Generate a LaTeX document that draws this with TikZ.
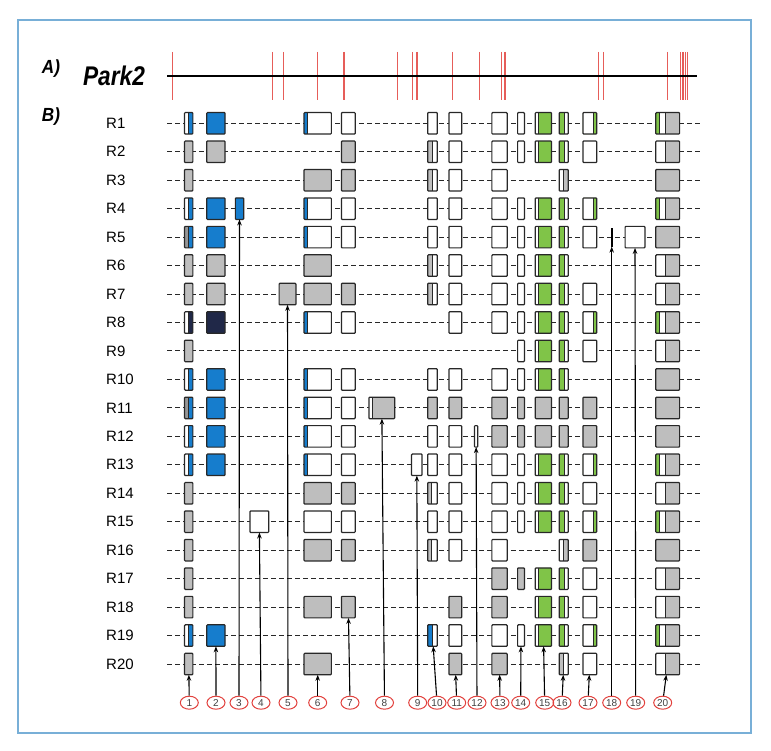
\documentclass[tikz,border=0pt]{standalone}
\usepackage{fontspec}
\setmainfont{Liberation Sans}
\usetikzlibrary{calc,shapes.geometric,arrows.meta}

\definecolor{exblue}{RGB}{22,125,205}
\definecolor{exgray}{RGB}{190,190,190}
\definecolor{exdkgray}{RGB}{150,150,150}
\definecolor{exgreen}{RGB}{128,196,72}
\definecolor{exnavy}{RGB}{32,40,72}
\definecolor{exline}{RGB}{40,40,40}
\definecolor{exred}{RGB}{226,64,60}
\definecolor{framecol}{RGB}{120,175,215}

\newcommand{\exfill}[2]{%
  \fill[#1] (path picture bounding box.south west) rectangle
    ($(path picture bounding box.north west)!#2!(path picture bounding box.north east)$);
  \draw[exline,line width=0.7pt]
    ($(path picture bounding box.south west)!#2!(path picture bounding box.south east)$) --
    ($(path picture bounding box.north west)!#2!(path picture bounding box.north east)$);}

\def\colx{{188.7,215.9,239.5,259.3,287.5,317.7,348.3,381.8,416.8,432.5,455.3,476.1,499.5,521,543.4,563.7,589.8,611.7,635,667.7}}
\def\colw{{9.5,19.5,9.5,20,18,28.5,15,27,11.7,10.8,14,4.5,16.5,8,17.5,10.3,15,3.1,21,25}}

\begin{document}
\begin{tikzpicture}[x=1pt,y=-1pt,
  exon/.style={draw=exline,line width=1.2pt,rounded corners=0.8pt,minimum height=21.5pt,inner sep=0pt,outer sep=0pt},
  exW/.style={exon,fill=white},
  exG/.style={exon,fill=exgray},
  exB/.style={exon,fill=exblue},
  exN/.style={exon,fill=exnavy},
  exT/.style={fill=black,minimum height=19pt,inner sep=0pt,outer sep=0pt},
  exWB/.style={exon,fill=exblue,path picture={\exfill{white}{0.5}}},
  exGB/.style={exon,fill=exblue,path picture={\exfill{exdkgray}{0.5}}},
  exWN/.style={exon,fill=exnavy,path picture={\exfill{white}{0.5}}},
  exbW/.style={exon,fill=white,path picture={\exfill{exblue}{0.12}}},
  exwG/.style={exon,fill=exgray,path picture={\exfill{white}{0.14}}},
  exGW/.style={exon,fill=white,path picture={\exfill{exgray}{0.5}}},
  exgW/.style={exon,fill=white,path picture={\exfill{exgray}{0.35}}},
  exBW/.style={exon,fill=white,path picture={\exfill{exblue}{0.5}}},
  exwGr/.style={exon,fill=exgreen,path picture={\exfill{white}{0.2}}},
  exGrW/.style={exon,fill=white,path picture={\exfill{exgreen}{0.6}}},
  exWG/.style={exon,fill=exgray,path picture={\exfill{white}{0.42}}},
  exWgr/.style={exon,fill=exgreen,path picture={\exfill{white}{0.78}}},
  exgWG/.style={exon,fill=exgray,path picture={\exfill{white}{0.42}\exfill{exgreen}{0.14}}},
  rowline/.style={exline,line width=1pt,dash pattern=on 4.5pt off 3.5pt},
  rlab/.style={anchor=west,inner sep=0pt,font=\fontsize{15}{18}\selectfont},
  num/.style={ellipse,draw=exred,line width=1pt,minimum width=18pt,minimum height=13pt,inner sep=0pt,
    text=black!75,font=\fontsize{10}{11}\selectfont},
  arr/.style={black,line width=1.1pt,-{Stealth[length=6pt,width=4.5pt]}},
  tickline/.style={exred!85,line width=1.2pt},
  head/.style={font=\bfseries\itshape\fontsize{19}{22}\selectfont}
]
\useasboundingbox (0,0) rectangle (771,751);
\fill[white] (0,0) rectangle (771,751);
\draw[framecol,line width=1.6pt] (18,20) rectangle (751,733);

\node[head] (hA) at (51,69) {\scalebox{0.9}[1]{A)}};
\node[head,font=\bfseries\itshape\fontsize{27}{30}\selectfont] (hgene) at (114,76) {\scalebox{0.84}[1]{Park2}};
\node[head] (hB) at (51,117) {\scalebox{0.9}[1]{B)}};

\foreach \x in {172.6,272.3,283.6,317.3,344.0,397.3,412.3,417.0,452.1,479.3,501.3,505.0,598.2,603.3,667.5,680.6,683.0,685.3,687.6}
  \draw[tickline] (\x,52) -- (\x,100);
\draw[line width=2.8pt] (167,76) -- (697,76);

\foreach \rr/\cols in {
  1/{1/WB,2/B,6/bW,7/W,10/W,11/W,13/W,14/W,15/wGr,16/GrW,17/Wgr,20/gWG},
  2/{1/G,2/G,7/G,10/GW,11/W,13/W,14/W,15/wGr,16/GrW,17/W,20/WG},
  3/{1/G,6/G,7/G,10/GW,11/W,13/W,16/WG,20/G},
  4/{1/WB,2/B,3/B,6/bW,7/W,10/W,11/W,13/W,14/W,15/wGr,16/GrW,17/Wgr,20/gWG},
  5/{1/GB,2/B,6/bW,7/W,10/W,11/W,13/W,14/W,15/wGr,16/GrW,17/W,18/T,19/W,20/G},
  6/{1/G,2/G,6/G,10/GW,11/W,13/W,14/W,15/wGr,16/GrW,20/WG},
  7/{1/G,2/G,5/G,6/G,7/G,10/GW,11/W,13/W,14/W,15/wGr,16/GrW,17/W,20/WG},
  8/{1/WN,2/N,6/bW,7/W,11/W,13/W,14/W,15/wGr,16/GrW,17/Wgr,20/gWG},
  9/{1/G,14/W,15/wGr,16/GrW,17/W,20/WG},
  10/{1/WB,2/B,6/bW,7/W,10/W,11/W,13/W,14/W,15/wGr,16/GrW,20/G},
  11/{1/GB,2/B,6/bW,7/W,8/wG,10/G,11/G,13/G,14/G,15/G,16/G,17/G,20/G},
  12/{1/WB,2/B,6/bW,7/W,10/W,11/W,12/W,13/G,14/G,15/G,16/G,17/G,20/G},
  13/{1/WB,2/B,6/bW,7/W,9/W,10/W,11/W,13/W,14/W,15/wGr,16/GrW,17/Wgr,20/gWG},
  14/{1/G,6/G,7/G,10/gW,11/W,13/W,14/W,15/wGr,16/GrW,17/W,20/WG},
  15/{1/G,4/W,6/W,7/W,10/W,11/W,13/W,14/W,15/wGr,16/GrW,17/Wgr,20/gWG},
  16/{1/G,6/G,7/G,10/gW,11/W,13/W,16/WG,17/G,20/G},
  17/{1/G,13/G,14/G,15/wGr,16/GrW,17/W,20/WG},
  18/{1/G,6/G,7/G,11/G,13/G,15/wGr,16/GrW,17/W,20/WG},
  19/{1/WB,2/B,10/BW,11/W,13/W,14/W,15/wGr,16/GrW,17/Wgr,20/gWG},
  20/{1/G,6/G,11/G,13/G,16/GW,17/W,20/WG}}{
  \pgfmathsetmacro\y{123.3+(\rr-1)*28.46}
  \draw[rowline] (167,\y) -- (703,\y);
  \node[rlab] (l\rr) at (106,\y) {R\rr};
  \foreach \cc/\kind in \cols {
    \pgfmathsetmacro\x{\colx[\cc-1]}
    \pgfmathsetmacro\w{\colw[\cc-1]-1.2}
    \node[ex\kind,minimum width=\w pt] (e\rr-\cc) at (\x,\y) {};
  }
}

\foreach \cc/\x in {1/189.3,2/216,3/239,4/261,5/288,6/317.7,7/350,8/384.5,9/417.7,10/437,
  11/456.7,12/477,13/500,14/520.7,15/544.7,16/562,17/588,18/611.7,19/635.7,20/662.7}
  \node[num] (n\cc) at (\x,702.7) {\cc};

\foreach \cc/\rr in {1/20,2/19,3/4,4/15,5/7,6/20,7/18,8/11,9/13,10/19,11/20,12/12,13/20,14/19,15/19,16/20,17/20,18/5,19/5,20/20}
  \draw[arr] (n\cc) -- (e\rr-\cc);
\end{tikzpicture}
\end{document}
